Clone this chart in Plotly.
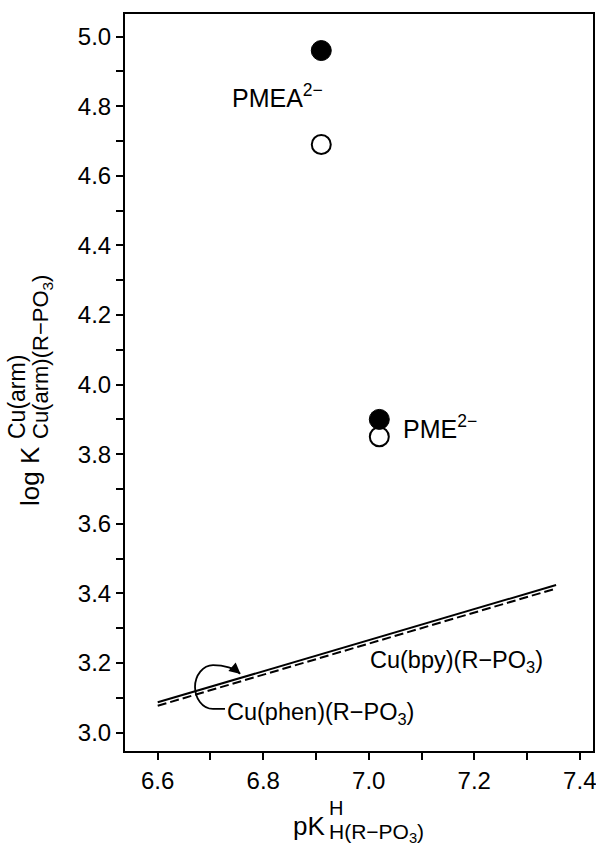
import plotly.graph_objects as go

# Stability constants vs. phosphonate basicity
pka_pmea = [6.91, 6.91]
logk_pmea = [4.96, 4.69]          # filled: Cu(bpy), open: Cu(phen)
pka_pme = [7.02, 7.02]
logk_pme = [3.90, 3.85]

# Reference lines for simple R-PO3 ligands
line_pka = [6.60, 7.355]
line_bpy = [3.087, 3.424]         # solid
line_phen = [3.077, 3.414]        # dashed

x_ticks = [6.6, 6.8, 7.0, 7.2, 7.4]
y_ticks = [3.0, 3.2, 3.4, 3.6, 3.8, 4.0, 4.2, 4.4, 4.6, 4.8, 5.0]

FONT = "Liberation Sans, Arial, sans-serif"
W, H = 596, 845
L, R, T, B = 125, 593, 14, 751


def px(xp):
    return (xp - L) / (R - L)


def py(yp):
    return (B - yp) / (B - T)


fig = go.Figure()

fig.add_trace(go.Scatter(x=line_pka, y=line_bpy, mode="lines",
                         line=dict(color="black", width=2)))
fig.add_trace(go.Scatter(x=line_pka, y=line_phen, mode="lines",
                         line=dict(color="black", width=2, dash="9px,4px")))

# open symbols first so the filled ones sit on top
fig.add_trace(go.Scatter(x=[pka_pmea[1], pka_pme[1]], y=[logk_pmea[1], logk_pme[1]],
                         mode="markers",
                         marker=dict(size=19, color="white",
                                     line=dict(color="black", width=2))))
fig.add_trace(go.Scatter(x=[pka_pmea[0], pka_pme[0]], y=[logk_pmea[0], logk_pme[0]],
                         mode="markers",
                         marker=dict(size=20, color="black",
                                     line=dict(color="black", width=1))))

axis_common = dict(
    showline=True, linecolor="black", linewidth=2, mirror=True,
    ticks="outside", ticklen=7, tickwidth=2, tickcolor="black",
    showgrid=False, zeroline=False, tickformat=".1f",
    tickfont=dict(family=FONT, size=24, color="black"),
    ticklabeloverflow="allow",
    minor=dict(dtick=0.1, ticks="outside", ticklen=7, tickwidth=2, tickcolor="black"),
    automargin=False,
)

fig.update_xaxes(range=[6.538, 7.425], tickvals=x_ticks, **axis_common)
fig.update_yaxes(range=[2.947, 5.065], tickvals=y_ticks, **axis_common)

ann = []


def text(t, x, y, size, xref="x", yref="y", xanchor="left", yanchor="middle", angle=0):
    ann.append(dict(text=t, x=x, y=y, xref=xref, yref=yref, xanchor=xanchor,
                    yanchor=yanchor, textangle=angle, showarrow=False,
                    font=dict(family=FONT, size=size, color="black")))


# point and line labels
text("PMEA<sup>2−</sup>", 6.737, 4.83, 25)
text("PME<sup>2−</sup>", 7.062, 3.878, 25)
text("Cu(bpy)(R−PO<sub>3</sub>)", 6.998, 3.205, 23.5)
text("Cu(phen)(R−PO<sub>3</sub>)", 6.727, 3.055, 23.5)

# x-axis title with stacked super/subscript
text("pK", px(291), py(826), 26, "paper", "paper")
text("H", px(327), py(808), 20, "paper", "paper")
text("H(R−PO<sub>3</sub>)", px(327), py(833), 21, "paper", "paper")

# y-axis title, rotated
text("log K", px(30), py(476), 26, "paper", "paper", "center", "middle", -90)
text("Cu(arm)", px(17), py(397), 23, "paper", "paper", "center", "middle", -90)
text("Cu(arm)(R−PO<sub>3</sub>)", px(42), py(357), 22, "paper", "paper", "center", "middle", -90)

# arrowhead of the curved pointer
ann.append(dict(text="", x=6.757, y=3.168, xref="x", yref="y",
                ax=-7, ay=-6, axref="pixel", ayref="pixel", showarrow=True,
                arrowhead=2, arrowsize=1.4, arrowwidth=1.6, arrowcolor="black"))

fig.update_layout(
    width=W, height=H,
    margin=dict(l=L, r=W - R, t=T, b=H - B),
    paper_bgcolor="white", plot_bgcolor="white",
    showlegend=False,
    annotations=ann,
    shapes=[dict(
        type="path", xref="x", yref="y",
        path=("M 6.7275,3.068 L 6.7048,3.068 "
              "C 6.684,3.068 6.6707,3.100 6.6707,3.131 "
              "C 6.6707,3.165 6.686,3.194 6.7048,3.194 "
              "C 6.726,3.194 6.746,3.184 6.756,3.169"),
        line=dict(color="black", width=1.8),
    )],
)

fig.write_html("out.html")
